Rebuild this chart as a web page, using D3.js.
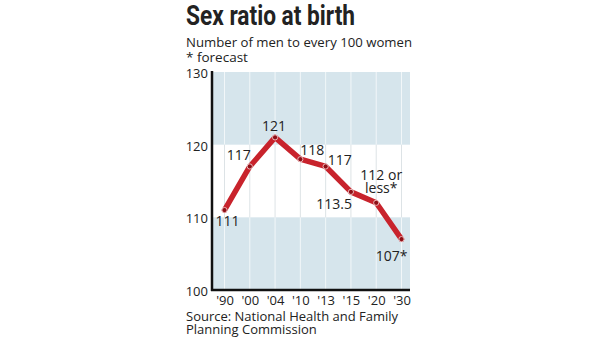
<!DOCTYPE html>
<html>
<head>
<meta charset="utf-8">
<script src="https://cdn.jsdelivr.net/npm/d3@7"></script>
<style>
  html, body { margin: 0; padding: 0; background: #fff; }
  svg { display: block; }
  text { font-family: "Open Sans", "Lato", sans-serif; fill: #222; }
</style>
</head>
<body>
<svg id="chart" width="600" height="338"></svg>
<script>
// Sex ratio at birth (men per 100 women)
const years = ["'90", "'00", "'04", "'10", "'13", "'15", "'20", "'30"];
const ratios = [111, 117, 121, 118, 117, 113.5, 112, 107];
const valueLabels = ["111", "117", "121", "118", "117", "113.5", "112 or\nless*", "107*"];
const yTicks = [100, 110, 120, 130];
const shadedBands = [[100, 110], [120, 130]];

const svg = d3.select("#chart");

const plot = { left: 212, right: 410, top: 72, bottom: 290 };

const x = d3.scalePoint().domain(years).range([224.5, 401.5]);
const y = d3.scaleLinear().domain([100, 130]).range([plot.bottom, plot.top]);

// title block
svg.append("text")
  .attr("x", 186).attr("y", 25)
  .style("font-family", "'Liberation Sans Narrow', 'Roboto', sans-serif")
  .attr("font-weight", "bold").attr("font-size", 27)
  .attr("textLength", 169).attr("lengthAdjust", "spacingAndGlyphs")
  .text("Sex ratio at birth");

svg.append("text").attr("x", 186).attr("y", 47)
  .attr("font-size", 13.5).attr("textLength", 226).attr("lengthAdjust", "spacingAndGlyphs")
  .text("Number of men to every 100 women");
svg.append("text").attr("x", 186).attr("y", 62)
  .attr("font-size", 13.5)
  .text("* forecast");

// background bands
svg.append("g").selectAll("rect").data(shadedBands).join("rect")
  .attr("x", plot.left).attr("width", plot.right - plot.left)
  .attr("y", d => y(d[1])).attr("height", d => y(d[0]) - y(d[1]))
  .attr("fill", "#d6e5ec");

// vertical gridlines: white over shaded bands, grey over the white band
const grid = svg.append("g");
years.forEach(yr => {
  shadedBands.forEach(b => {
    grid.append("line")
      .attr("x1", x(yr)).attr("x2", x(yr))
      .attr("y1", y(b[1])).attr("y2", y(b[0]))
      .attr("stroke", "#f2f7f9").attr("stroke-width", 1);
  });
  grid.append("line")
    .attr("x1", x(yr)).attr("x2", x(yr))
    .attr("y1", y(120)).attr("y2", y(110))
    .attr("stroke", "#dde3e6").attr("stroke-width", 1);
});

// y axis
const yAxis = svg.append("g")
  .attr("transform", `translate(${plot.left - 2},0)`)
  .call(d3.axisLeft(y).tickValues(yTicks).tickSize(0).tickPadding(2));
yAxis.select(".domain").remove();
yAxis.selectAll("text")
  .attr("font-size", 13).attr("dy", "0.42em")
  .style("font-family", "'Open Sans', sans-serif").attr("fill", "#222");

// x axis labels
const xAxis = svg.append("g")
  .attr("transform", `translate(0,${plot.bottom})`)
  .call(d3.axisBottom(x).tickSize(0).tickPadding(5));
xAxis.select(".domain").remove();
xAxis.selectAll("text")
  .attr("font-size", 13).attr("dy", "0.8em")
  .style("font-family", "'Open Sans', sans-serif").attr("fill", "#222");

// axis frame lines
svg.append("line")
  .attr("x1", plot.left).attr("x2", plot.left)
  .attr("y1", plot.top - 1).attr("y2", plot.bottom + 1)
  .attr("stroke", "#111").attr("stroke-width", 2.5);
svg.append("line")
  .attr("x1", plot.left - 1).attr("x2", plot.right)
  .attr("y1", plot.bottom).attr("y2", plot.bottom)
  .attr("stroke", "#111").attr("stroke-width", 2.5);

// the line and its markers
const pts = years.map((yr, i) => ({ yr, v: ratios[i], label: valueLabels[i] }));
svg.append("path").datum(pts)
  .attr("fill", "none").attr("stroke", "#c8232c").attr("stroke-width", 5.5)
  .attr("stroke-linejoin", "round").attr("stroke-linecap", "round")
  .attr("d", d3.line().x(d => x(d.yr)).y(d => y(d.v)));
svg.append("g").selectAll("circle").data(pts).join("circle")
  .attr("cx", d => x(d.yr)).attr("cy", d => y(d.v)).attr("r", 2.6)
  .attr("fill", "#8e0f16").attr("stroke", "#f3c9cb").attr("stroke-width", 0.9);

// value labels
const labelOffsets = [
  { dx: 3, dy: 16, anchor: "middle" },
  { dx: 1, dy: -6, anchor: "end" },
  { dx: -1, dy: -6, anchor: "middle" },
  { dx: 0, dy: -4, anchor: "start" },
  { dx: 2, dy: -1, anchor: "start" },
  { dx: 1, dy: 17, anchor: "end" },
  { dx: 5, dy: -23, anchor: "middle" },
  { dx: 6, dy: 22, anchor: "end" }
];
const lbl = svg.append("g");
pts.forEach((d, i) => {
  const o = labelOffsets[i];
  const lines = d.label.split("\n");
  lines.forEach((ln, j) => {
    lbl.append("text")
      .attr("x", x(d.yr) + o.dx).attr("y", y(d.v) + o.dy + j * 13)
      .attr("text-anchor", o.anchor).attr("font-size", 14).attr("fill", "#222")
      .text(ln);
  });
});

// source note
svg.append("text").attr("x", 186).attr("y", 321).attr("font-size", 13)
  .text("Source: National Health and Family");
svg.append("text").attr("x", 186).attr("y", 334).attr("font-size", 13)
  .text("Planning Commission");
</script>
</body>
</html>
